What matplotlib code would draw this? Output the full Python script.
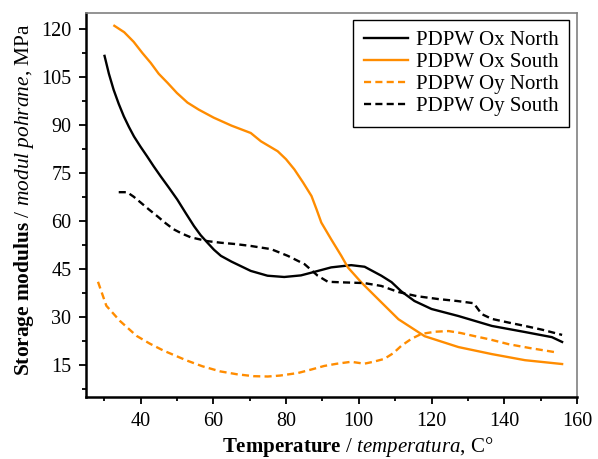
import matplotlib.pyplot as plt
from matplotlib.ticker import MultipleLocator

plt.rcParams['font.family'] = 'Liberation Serif'
plt.rcParams['mathtext.fontset'] = 'custom'
plt.rcParams['mathtext.rm'] = 'Liberation Serif'
plt.rcParams['mathtext.it'] = 'Liberation Serif:italic'
plt.rcParams['mathtext.bf'] = 'Liberation Serif:bold'

ORANGE = '#ff8c00'

# PDPW Ox North (black solid)
ox_north_t = [30.1, 31.3, 32.6, 34, 35.4, 36.8, 38.2, 40, 41.8, 43.6, 45.5, 47.8, 50.1, 52.4, 54.7, 56.5,
              58.4, 60.2, 62.1, 65, 70.3, 74.9, 79.5, 84.1, 87.8, 92.4, 97.9, 101.6, 106.2, 109, 111.7,
              115.3, 120, 127.4, 136.6, 145.7, 153.1, 155.9]
ox_north_e = [111.6, 106, 101, 96.6, 92.7, 89.4, 86.4, 83.2, 80.2, 77.1, 74, 70.4, 66.7, 62.5, 58.4, 55.6,
              53.2, 51, 49.1, 47.3, 44.4, 42.9, 42.5, 43, 44.1, 45.5, 46.2, 45.7, 42.9, 40.9, 38,
              35, 32.5, 30.3, 27.2, 25.3, 23.7, 22.2]

# PDPW Ox South (orange solid)
ox_south_t = [32.8, 35.5, 38.1, 40.5, 42.8, 45, 47.4, 50, 52.9, 56, 60.1, 65, 70.3, 73.1, 77.7, 80, 82.3,
              84.7, 87, 88.4, 89.7, 92.4, 95.2, 97, 100.7, 105.3, 110.9, 118.1, 127.4, 136.6, 145.7, 155.9]
ox_south_e = [121, 119, 116, 112.5, 109.4, 106, 103.2, 100, 97, 94.8, 92.3, 89.8, 87.5, 84.9, 81.8, 79.3, 76.1,
              72, 67.8, 63.6, 59.5, 54.3, 49.1, 45.5, 40.8, 35.6, 29.3, 24, 20.6, 18.4, 16.5, 15.3]

# PDPW Oy North (orange dashed)
oy_north_t = [28.3, 30.6, 34.3, 38.9, 42.5, 46.3, 52.7, 57, 61.9, 66.5, 71.1, 75, 78.4, 83.3, 87, 90.5, 94,
              97.9, 101.5, 104, 107, 109.5, 111.7, 114.5, 117.2, 121, 124.7, 128, 131.9, 136, 141.2, 147, 154]
oy_north_e = [41, 33.5, 28.8, 24.1, 21.7, 19.5, 16.4, 14.6, 13, 12.1, 11.5, 11.4, 11.7, 12.5, 13.6, 14.7, 15.4,
              16, 15.4, 16, 16.9, 18.7, 21, 23.2, 24.7, 25.4, 25.6, 25, 24, 23, 21.5, 20.3, 19]

# PDPW Oy South (black dashed)
oy_south_t = [34, 36.3, 38.1, 40, 42.3, 44.6, 46.9, 49.1, 51.5, 53.8, 58.4, 62.1, 66, 70.3, 75.9, 80.5, 85.1,
              88.7, 91.5, 96.1, 101.5, 106.2, 110.9, 116, 121.9, 127, 131.6, 133.8, 136.6, 141, 145.7, 150.5,
              155.9]
oy_south_e = [69, 69, 67.6, 65.8, 63.6, 61.5, 59.3, 57.4, 56, 54.9, 53.7, 53.2, 52.8, 52.2, 51.2, 49.1, 46.5,
              42.9, 41, 40.8, 40.6, 39.7, 37.8, 36.5, 35.6, 35, 34.3, 30.9, 29.4, 28.3, 27.2, 26,
              24.4]

x_ticks = [40, 60, 80, 100, 120, 140, 160]
y_ticks = [15, 30, 45, 60, 75, 90, 105, 120]

fig = plt.figure(figsize=(5.98, 4.59), dpi=100)
ax = fig.add_axes([0.1438, 0.1351, 0.8211, 0.8366])

lw = 1.7
dash = (0, (3, 1.8))
ax.plot(ox_north_t, ox_north_e, color='black', lw=lw, label='PDPW Ox North')
ax.plot(ox_south_t, ox_south_e, color=ORANGE, lw=lw, label='PDPW Ox South')
ax.plot(oy_north_t, oy_north_e, color=ORANGE, lw=lw, ls=dash, label='PDPW Oy North')
ax.plot(oy_south_t, oy_south_e, color='black', lw=lw, ls=dash, label='PDPW Oy South')

ax.set_xlim(25, 160)
ax.set_ylim(5, 125)
ax.set_xticks(x_ticks)
ax.set_yticks(y_ticks)
ax.xaxis.set_minor_locator(MultipleLocator(10))
ax.yaxis.set_minor_locator(MultipleLocator(7.5))
ax.tick_params(which='both', direction='out', top=False, right=False, labelsize=14.5, width=1.3)
ax.tick_params(which='major', length=5, pad=5.5)
ax.tick_params(which='minor', length=3)

for side in ['left', 'bottom']:
    ax.spines[side].set_linewidth(1.8)
    ax.spines[side].set_color('black')
for side in ['top', 'right']:
    ax.spines[side].set_linewidth(1.2)
    ax.spines[side].set_color('#808080')

ax.set_xlabel(r'$\mathbf{Temperature}$ / $\mathit{temperatura}$, C°', fontsize=15)
ax.xaxis.set_label_coords(0.554, -0.099)
ax.set_ylabel(r'$\mathbf{Storage\ modulus}$ / $\mathit{modul\ pohrane}$, MPa', fontsize=15.4)
ax.yaxis.set_label_coords(-0.102, 0.515)

leg = ax.legend(loc='upper right', bbox_to_anchor=(0.9837, 0.9818), borderaxespad=0,
                fontsize=15, frameon=True, fancybox=False, framealpha=1, edgecolor='black',
                handlelength=2.1, handletextpad=0.4, labelspacing=0.12, borderpad=0.5)
leg.get_frame().set_linewidth(1.0)

fig.savefig('out.png', dpi=100)
